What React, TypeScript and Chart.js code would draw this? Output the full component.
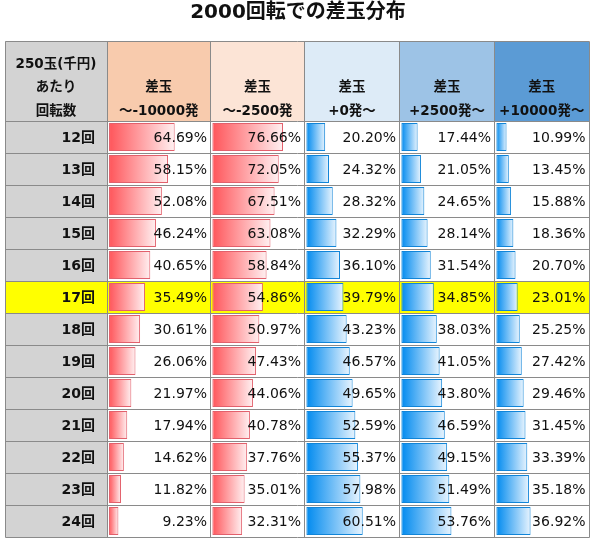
import React, { useEffect, useRef } from "react";
import { Chart, registerables } from "chart.js";

Chart.register(...registerables);

// ---- data ----
const chartTitle = "2000回転での差玉分布";
const cornerLines = ["250玉(千円)", "あたり", "回転数"];
const headTop = "差玉";
const headBottom = ["～-10000発", "～-2500発", "+0発～", "+2500発～", "+10000発～"];
const rowLabels = ["12回", "13回", "14回", "15回", "16回", "17回", "18回", "19回", "20回", "21回", "22回", "23回", "24回"];
const highlightRow = "17回";

const minus10000 = [64.69, 58.15, 52.08, 46.24, 40.65, 35.49, 30.61, 26.06, 21.97, 17.94, 14.62, 11.82, 9.23];
const minus2500 = [76.66, 72.05, 67.51, 63.08, 58.84, 54.86, 50.97, 47.43, 44.06, 40.78, 37.76, 35.01, 32.31];
const plus0 = [20.2, 24.32, 28.32, 32.29, 36.1, 39.79, 43.23, 46.57, 49.65, 52.59, 55.37, 57.98, 60.51];
const plus2500 = [17.44, 21.05, 24.65, 28.14, 31.54, 34.85, 38.03, 41.05, 43.8, 46.59, 49.15, 51.49, 53.76];
const plus10000 = [10.99, 13.45, 15.88, 18.36, 20.7, 23.01, 25.25, 27.42, 29.46, 31.45, 33.39, 35.18, 36.92];

const seriesValues = [minus10000, minus2500, plus0, plus2500, plus10000];

// ---- style ----
const headerColors = ["#F8CBAD", "#FCE4D6", "#DDEBF7", "#9DC3E6", "#5B9BD5"];
const colWeights = [103.5, 94, 95, 95, 94.5];
const barKinds = ["red", "red", "blue", "blue", "blue"];
const barStyle: Record<string, { c0: string; c1: string; border: string }> = {
  red: { c0: "#FF555A", c1: "#FFF0F1", border: "#E2606C" },
  blue: { c0: "#008AEF", c1: "#E8F4FE", border: "#1185D8" },
};
const axisIds = ["x0", "x1", "x2", "x3", "x4"];
const GRAY = "#D3D3D3";
const LINE = "#8A8A8A";
const TABLE_LEFT = 5;
const HEADER_TOP = 41;
const FONT_VAL = '14px "DejaVu Sans", "Noto Sans CJK JP", sans-serif';
const FONT_BOLD = 'bold 14px "DejaVu Sans", "Noto Sans CJK JP", sans-serif';
const FONT_HEAD = 'bold 13.5px "DejaVu Sans", "Noto Sans CJK JP", sans-serif';
const FONT_TITLE = 'bold 20px "DejaVu Sans", "Noto Sans CJK JP", sans-serif';

function gradientFor(kind: string) {
  return (ctx: any) => {
    const st = barStyle[kind];
    const chart = ctx.chart;
    if (!chart.chartArea || ctx.type !== "data") return st.c0;
    const ds = chart.data.datasets[ctx.datasetIndex];
    const sc = chart.scales[ds.xAxisID];
    if (!sc) return st.c0;
    const a = sc.getPixelForValue(0);
    const b = sc.getPixelForValue(ctx.raw as number);
    if (!isFinite(a) || !isFinite(b) || b - a < 1) return st.c0;
    const g = chart.ctx.createLinearGradient(a, 0, b, 0);
    g.addColorStop(0, st.c0);
    g.addColorStop(1, st.c1);
    return g;
  };
}

const tablePlugin = {
  id: "tableDecor",
  beforeDatasetsDraw(chart: any) {
    const { ctx, chartArea: ca, scales } = chart;
    const y = scales.y;
    const xs = axisIds.map((id) => scales[id]);
    const half = (y.getPixelForValue(1) - y.getPixelForValue(0)) / 2;
    ctx.save();
    ctx.fillStyle = "#FFFFFF";
    ctx.fillRect(0, 0, chart.width, chart.height);
    ctx.fillStyle = "#111111";
    ctx.font = FONT_TITLE;
    ctx.textAlign = "center";
    ctx.textBaseline = "middle";
    ctx.fillText(chartTitle, (TABLE_LEFT + ca.right) / 2 + 1, 13);
    ctx.fillStyle = GRAY;
    ctx.fillRect(TABLE_LEFT, HEADER_TOP, ca.left - TABLE_LEFT, ca.top - HEADER_TOP);
    xs.forEach((sc: any, i: number) => {
      ctx.fillStyle = headerColors[i];
      ctx.fillRect(sc.left, HEADER_TOP, sc.right - sc.left, ca.top - HEADER_TOP);
    });
    rowLabels.forEach((lab, j) => {
      const cy = y.getPixelForValue(j);
      if (lab === highlightRow) {
        ctx.fillStyle = "#FFFF00";
        ctx.fillRect(TABLE_LEFT, cy - half, ca.right - TABLE_LEFT, half * 2);
      } else {
        ctx.fillStyle = GRAY;
        ctx.fillRect(TABLE_LEFT, cy - half, ca.left - TABLE_LEFT, half * 2);
      }
    });
    ctx.restore();
  },
  afterDatasetsDraw(chart: any) {
    const { ctx, chartArea: ca, scales } = chart;
    const y = scales.y;
    const xs = axisIds.map((id) => scales[id]);
    const half = (y.getPixelForValue(1) - y.getPixelForValue(0)) / 2;
    ctx.save();
    ctx.fillStyle = "#111111";
    ctx.textBaseline = "middle";
    ctx.font = FONT_VAL;
    ctx.textAlign = "right";
    seriesValues.forEach((vals, i) => {
      const sc = xs[i];
      vals.forEach((v, j) => {
        ctx.fillText(v.toFixed(2) + "%", sc.right - 3.5, y.getPixelForValue(j) + 1);
      });
    });
    ctx.font = FONT_BOLD;
    rowLabels.forEach((lab, j) => {
      ctx.fillText(lab, ca.left - 12, y.getPixelForValue(j) + 1);
    });
    ctx.font = FONT_HEAD;
    ctx.textAlign = "center";
    const cx0 = (TABLE_LEFT + ca.left) / 2;
    cornerLines.forEach((t, k) => ctx.fillText(t, cx0, 64 + k * 23.5));
    xs.forEach((sc: any, i: number) => {
      const cx = (sc.left + sc.right) / 2;
      ctx.fillText(headTop, cx, 87.5);
      ctx.fillText(headBottom[i], cx, 111);
    });
    ctx.strokeStyle = LINE;
    ctx.lineWidth = 1;
    ctx.beginPath();
    const vx = [TABLE_LEFT, ca.left, ...xs.map((sc: any) => sc.right)];
    vx.forEach((x) => {
      const px = Math.floor(x) + 0.5;
      ctx.moveTo(px, HEADER_TOP + 0.5);
      ctx.lineTo(px, Math.floor(ca.bottom) + 0.5);
    });
    const hy = [HEADER_TOP, ...rowLabels.map((_, j) => y.getPixelForValue(j) - half), ca.bottom];
    hy.forEach((yy) => {
      const py = Math.floor(yy + 0.01) + 0.5;
      ctx.moveTo(TABLE_LEFT + 0.5, py);
      ctx.lineTo(Math.floor(ca.right) + 0.5, py);
    });
    ctx.stroke();
    ctx.restore();
  },
};

export default function App() {
  const ref = useRef<HTMLCanvasElement | null>(null);
  useEffect(() => {
    if (!ref.current) return;
    const scales: any = {
      y: { type: "category", labels: rowLabels, display: false, offset: true },
    };
    axisIds.forEach((id, i) => {
      scales[id] = {
        type: "linear",
        axis: "x",
        position: "bottom",
        stack: "cols",
        stackWeight: colWeights[i],
        weight: i,
        min: -2,
        max: 100,
        display: false,
      };
    });
    const chart = new Chart(ref.current, {
      type: "bar",
      data: {
        labels: rowLabels,
        datasets: seriesValues.map((vals, i) => ({
          label: headBottom[i],
          data: vals,
          xAxisID: axisIds[i],
          yAxisID: "y",
          grouped: false,
          categoryPercentage: 1,
          barPercentage: 0.875,
          borderWidth: 1,
          borderSkipped: false,
          borderColor: barStyle[barKinds[i]].border,
          backgroundColor: gradientFor(barKinds[i]),
        })),
      } as any,
      options: {
        indexAxis: "y",
        animation: false,
        responsive: false,
        layout: { padding: { left: 107, right: 5, top: 121, bottom: 6 } },
        plugins: { legend: { display: false }, tooltip: { enabled: false }, title: { display: false } },
        events: [],
        scales,
      } as any,
      plugins: [tablePlugin],
    });
    return () => chart.destroy();
  }, []);
  return (
    <div style={{ position: "absolute", left: 0, top: 0, width: 594, height: 543 }}>
      <canvas ref={ref} width={594} height={543} style={{ width: 594, height: 543, display: "block" }} />
    </div>
  );
}
